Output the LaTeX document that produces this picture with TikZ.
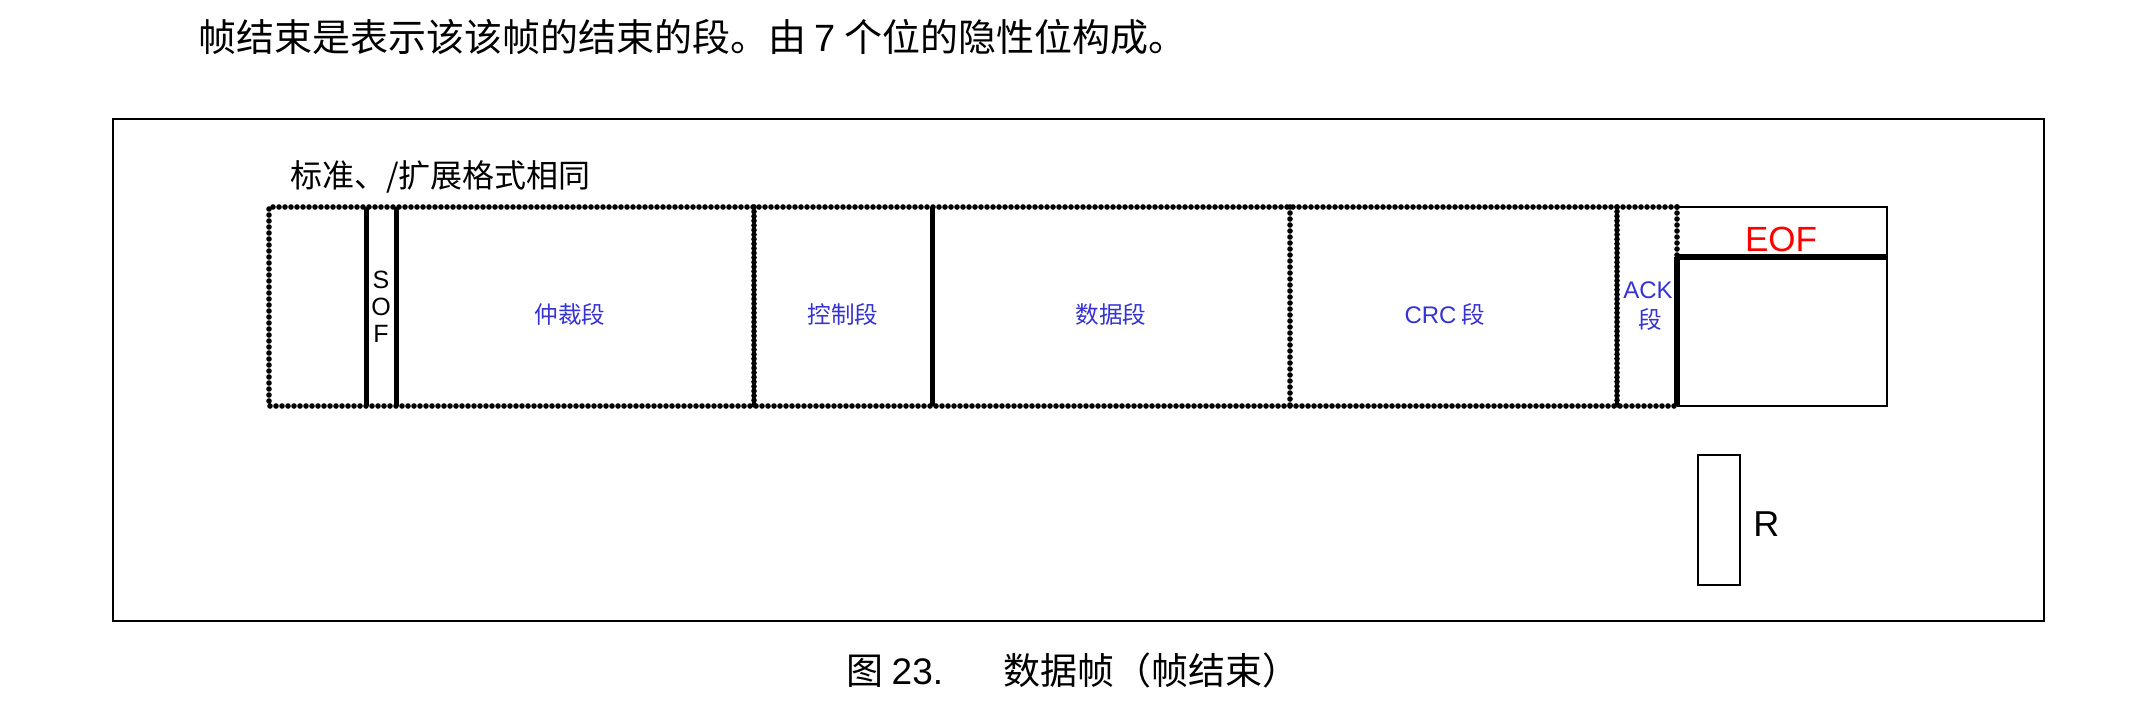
\documentclass[tikz,border=0pt]{standalone}
\usepackage{fontspec}
\setmainfont{Liberation Sans}
\newfontfamily\cjk{Noto Sans CJK SC}
\definecolor{segblue}{RGB}{55,50,210}
\begin{document}
\begin{tikzpicture}[x=0.5pt,y=-0.5pt,
  dotline/.style={line width=2.8pt,line cap=round,dash pattern=on 0pt off 3.0pt},
  densedot/.style={line width=2.8pt,line cap=round,dash pattern=on 0pt off 2.3pt},
  thickline/.style={line width=2.5pt},
  heavyline/.style={line width=3.3pt},
  thinline/.style={line width=1.4pt},
  seglabel/.style={text=segblue,font=\cjk\fontsize{11.8}{13}\selectfont,inner sep=0pt},
  inner sep=0pt]
\useasboundingbox (0,0) rectangle (2141,713);
% heading text
\node[anchor=west,font=\cjk\fontsize{19}{22}\selectfont] (head) at (198,37) {帧结束是表示该该帧的结束的段。由 {\rmfamily 7} 个位的隐性位构成。};
% outer frame
\draw[line width=1.2pt] (113,119) rectangle (2044,621);
\node[anchor=west,font=\cjk\fontsize{16}{18}\selectfont] (std) at (290,177) {标准、/扩展格式相同};
% coordinates
\coordinate (tl) at (269,207);
\coordinate (bl) at (269,406);
\coordinate (ta) at (1677,207);
\coordinate (ba) at (1677,406);
\coordinate (te) at (1887,207);
\coordinate (be) at (1887,406);
\coordinate (ma) at (1677,257);
\coordinate (me) at (1887,257);
% dotted box
\draw[dotline] (ta) -- (tl) -- (bl) -- (ba);
\draw[dotline] (ta) -- (ma);
% segment separators
\draw[thickline] (366,207) -- (366,406);
\draw[thickline] (396,207) -- (396,406);
\draw[densedot] (754,207) -- (754,406);
\draw[thickline] (932,207) -- (932,406);
\draw[dotline] (1290,207) -- (1290,406);
\draw[densedot] (1617,207) -- (1617,406);
% EOF box
\draw[thinline] (ta) -- (te) -- (be) -- (ba);
\draw[heavyline] (ma) -- (me);
\draw[heavyline] (ma) -- (ba);
% labels
\node[font=\fontsize{12.5}{13}\selectfont,align=center] (sof) at (381,307) {S\\[0.5pt]O\\[0.5pt]F};
\node[seglabel] (arb) at (570,314) {仲裁段};
\node[seglabel] (ctl) at (843,314) {控制段};
\node[seglabel] (dat) at (1111,314) {数据段};
\node[seglabel] (crc) at (1445,314) {{\rmfamily\fontsize{12}{13}\selectfont CRC} 段};
\node[text=segblue,font=\fontsize{12}{13}\selectfont] (ack) at (1648,290) {ACK};
\node[seglabel] (ackd) at (1650,320) {段};
\node[text=red,font=\fontsize{17.5}{20}\selectfont] (eof) at (1781,239) {EOF};
% R box
\draw[line width=1.4pt] (1698,455) rectangle (1740,585);
\node[font=\fontsize{18}{20}\selectfont,anchor=west] (r) at (1753,524) {R};
% caption
\node[anchor=west,font=\cjk\fontsize{18.5}{22}\selectfont] (cap) at (846,670) {图 {\rmfamily 23.}\hspace{30pt}数据帧（帧结束）};
\end{tikzpicture}
\end{document}
